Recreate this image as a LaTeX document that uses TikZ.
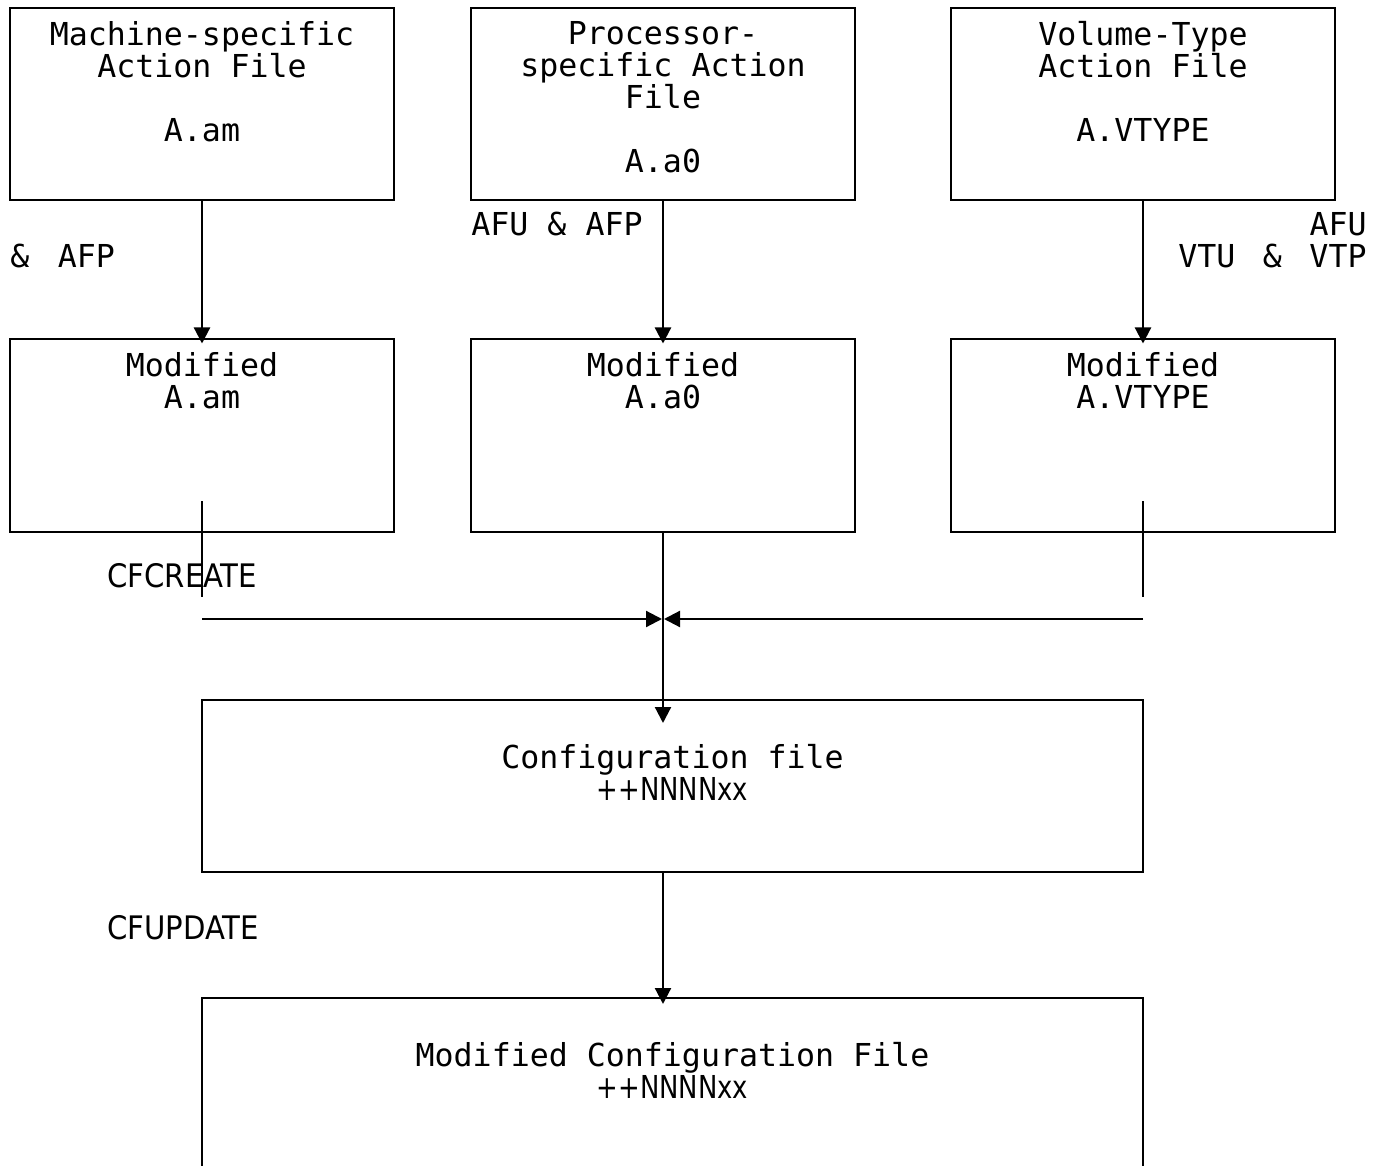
\documentclass[tikz,border=0pt]{standalone}
\usepackage{fontspec}
\setmainfont{DejaVu Sans Mono}
\newfontfamily\condfont{DejaVu Sans Condensed}
\usetikzlibrary{arrows.meta}

\newcommand{\nnnn}{\scalebox{0.91}[1]{\condfont ++NNNNxx}}

\begin{document}
\begin{tikzpicture}[x=0.5pt,y=-0.5pt,
  font=\fontsize{15.8}{16}\selectfont,
  box/.style={draw,line width=1pt,minimum width=192pt,minimum height=96pt,inner sep=0pt},
  widebox/.style={draw,line width=1pt,minimum width=470.5pt,inner sep=0pt},
  txt/.style={anchor=north,align=center,inner sep=0pt},
  lbl/.style={inner sep=0pt},
  link/.style={line width=1.1pt,-{Triangle[length=8pt,width=8pt]}},
  stub/.style={line width=0.7pt}]

\useasboundingbox (0,0) rectangle (1383,1166);
\clip (0,0) rectangle (1383,1166);

% source files
\node[box] (am)    at (202,104)  {};
\node[box] (a0)    at (663,104)  {};
\node[box] (vtype) at (1143,104) {};

\node[txt] (amtxt)    at ([yshift=-7pt]am.north)    {Machine-specific\\Action File\\[16pt]A.am};
\node[txt] (a0txt)    at ([yshift=-7pt]a0.north)    {Processor-\\specific Action\\File\\[16pt]A.a0};
\node[txt] (vtypetxt) at ([yshift=-7pt]vtype.north) {Volume-Type\\Action File\\[16pt]A.VTYPE};

% modified files
\node[box] (modam)    at (202,435.5)  {};
\node[box] (moda0)    at (663,435.5)  {};
\node[box] (modvtype) at (1143,435.5) {};

\node[txt] (modamtxt)    at ([yshift=-7pt]modam.north)    {Modified\\A.am};
\node[txt] (moda0txt)    at ([yshift=-7pt]moda0.north)    {Modified\\A.a0};
\node[txt] (modvtypetxt) at ([yshift=-7pt]modvtype.north) {Modified\\A.VTYPE};

% configuration files
\node[widebox,minimum height=86pt] (cfg) at (672.5,786) {};
\node[txt] (cfgtxt) at ([yshift=-22.5pt]cfg.north) {Configuration file\\\nnnn};

\node[widebox,minimum height=200pt] (modcfg) at (672.5,1198) {};
\node[txt] (modcfgtxt) at ([yshift=-22.5pt]modcfg.north) {Modified Configuration File\\\nnnn};

% labels
\node[lbl,anchor=west] (afp) at (10,256) {\&\hspace{0.9em}AFP};
\node[lbl,anchor=west] (afuafp) at (471,224) {AFU \& AFP};
\node[lbl,anchor=east] (afu) at (1367,224) {AFU};
\node[lbl,anchor=east] (vtuvtp) at (1367,256) {VTU\hspace{0.87em}\&\hspace{0.87em}VTP};
\node[lbl,anchor=west,font=\fontsize{16.2}{16}\condfont] (create) at (107,576) {CFCREATE};
\node[lbl,anchor=west,font=\fontsize{16.2}{16}\condfont] (update) at (107,928) {CFUPDATE};

% update arrows
\draw[link] (am.south)    -- ([yshift=-2.5pt]modam.north);
\draw[link] (a0.south)    -- ([yshift=-2.5pt]moda0.north);
\draw[link] (vtype.south) -- ([yshift=-2.5pt]modvtype.north);

% create
\coordinate (s1) at (202,597);
\coordinate (s3) at (1143,597);
\coordinate (h1) at (202,619);
\coordinate (h3) at (1143,619);
\coordinate (hm) at (663,619);

\draw[stub] ([yshift=15.5pt]modam.south)    -- (s1);
\draw[stub] ([yshift=15.5pt]modvtype.south) -- (s3);
\draw[link] (h1) -- ([xshift=-0.5pt]hm);
\draw[link] (h3) -- ([xshift=0.5pt]hm);
\draw[link] (moda0.south) -- ([yshift=-12pt]moda0.south |- cfg.north);

% update
\draw[link] (moda0.south |- cfg.south) -- ([yshift=-3.5pt]moda0.south |- modcfg.north);

\end{tikzpicture}
\end{document}
